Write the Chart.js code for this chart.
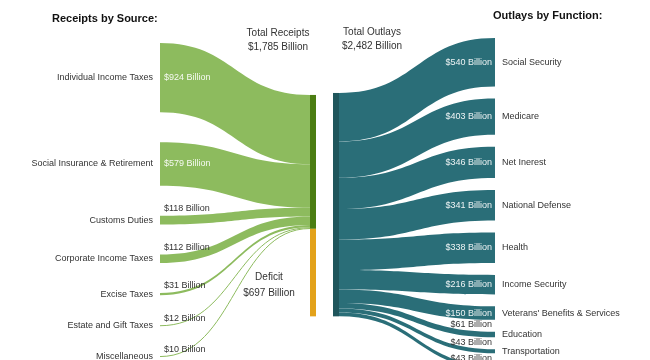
<!DOCTYPE html>
<html>
<head>
<meta charset="utf-8">
<script src="https://cdn.jsdelivr.net/npm/chart.js@4.4.1/dist/chart.umd.min.js"></script>
<style>
  body { margin: 0; background: #fff; }
</style>
</head>
<body>
<canvas id="grafico" width="650" height="360"></canvas>
<script>
// Receipts by source (billions)
const sources = ['Individual Income Taxes', 'Social Insurance & Retirement', 'Customs Duties',
  'Corporate Income Taxes', 'Excise Taxes', 'Estate and Gift Taxes', 'Miscellaneous'];
const receipts = [924, 579, 118, 112, 31, 12, 10];

// Outlays by function (billions)
const functions = ['Social Security', 'Medicare', 'Net Inerest', 'National Defense', 'Health',
  'Income Security', "Veterans' Benefits & Services", 'Education', 'Transportation', 'Other'];
const outlays = [540, 403, 346, 341, 338, 216, 150, 61, 43, 43];

const totalReceipts = 1785;
const totalOutlays = 2482;
const deficit = 697;

// layout (value units on each side)
const GAP_L = 400, GAP_R = 133;
const RECEIPTS_TOP = 693, OUTLAYS_TOP = 611;
const X = { lStart: 160, lBar: 310, rBar: 333, rEnd: 495, barW: 6 };

const C = {
  green: '#8dbb5e', greenBar: '#4b7d12', deficit: '#e3a21a',
  teal: '#2a6e78', tealBar: '#1f565c', text: '#333333'
};
const FONT = '"Liberation Sans", Arial, sans-serif';

const fmt = v => '$' + v.toLocaleString('en-US') + ' Billion';

function band(ctx, x0, t0, b0, x1, t1, b1) {
  const xm = (x0 + x1) / 2;
  if (b0 - t0 < 1.2) {
    // very thin flows drawn as a line
    const y0 = (t0 + b0) / 2, y1 = (t1 + b1) / 2;
    ctx.save();
    ctx.strokeStyle = ctx.fillStyle;
    ctx.lineWidth = Math.max(1, b0 - t0);
    ctx.beginPath();
    ctx.moveTo(x0, y0);
    ctx.bezierCurveTo(xm, y0, xm, y1, x1, y1);
    ctx.stroke();
    ctx.restore();
    return;
  }
  ctx.beginPath();
  ctx.moveTo(x0, t0);
  ctx.bezierCurveTo(xm, t0, xm, t1, x1, t1);
  ctx.lineTo(x1, b1);
  ctx.bezierCurveTo(xm, b1, xm, b0, x0, b0);
  ctx.closePath();
  ctx.fill();
}

function text(ctx, s, x, y, align, color, font) {
  ctx.fillStyle = color;
  ctx.textAlign = align;
  ctx.textBaseline = 'middle';
  ctx.font = font;
  ctx.fillText(s, x, y);
}

const sankeyPlugin = {
  id: 'sankey',
  afterDraw(chart) {
    const ctx = chart.ctx;
    const px = chart.scales.x, yl = chart.scales.yL, yr = chart.scales.yR;
    const xs = v => px.getPixelForValue(v);
    const small = '9px ' + FONT;

    // LEFT: sources -> total receipts
    let pos = 0, acc = RECEIPTS_TOP;
    receipts.forEach((v, i) => {
      const t0 = yl.getPixelForValue(pos), b0 = yl.getPixelForValue(pos + v);
      const t1 = yl.getPixelForValue(acc), b1 = yl.getPixelForValue(acc + v);
      ctx.fillStyle = C.green;
      band(ctx, xs(X.lStart), t0, b0, xs(X.lBar), t1, b1);
      const mid = (t0 + b0) / 2;
      text(ctx, sources[i], xs(X.lStart - 7), mid, 'right', C.text, small);
      if (v > 300) text(ctx, fmt(v), xs(X.lStart + 4), mid, 'left', 'rgba(255,255,255,0.92)', small);
      else text(ctx, fmt(v), xs(X.lStart + 4), t0 - 7, 'left', C.text, small);
      pos += v + GAP_L;
      acc += v;
    });

    // receipts bar + deficit bar
    const rTop = yl.getPixelForValue(RECEIPTS_TOP);
    const rBot = yl.getPixelForValue(RECEIPTS_TOP + totalReceipts);
    const oBot = yr.getPixelForValue(OUTLAYS_TOP + totalReceipts + deficit);
    ctx.fillStyle = C.greenBar;
    ctx.fillRect(xs(X.lBar), rTop, X.barW, rBot - rTop);
    ctx.fillStyle = C.deficit;
    ctx.fillRect(xs(X.lBar), rBot, X.barW, oBot - rBot);

    // RIGHT: total outlays -> functions
    const oTop = yr.getPixelForValue(OUTLAYS_TOP);
    const oEnd = yr.getPixelForValue(OUTLAYS_TOP + totalOutlays);
    ctx.fillStyle = C.tealBar;
    ctx.fillRect(xs(X.rBar), oTop, X.barW, oEnd - oTop);
    pos = 0; acc = OUTLAYS_TOP;
    outlays.forEach((v, i) => {
      const t0 = yr.getPixelForValue(acc), b0 = yr.getPixelForValue(acc + v);
      const t1 = yr.getPixelForValue(pos), b1 = yr.getPixelForValue(pos + v);
      ctx.fillStyle = C.teal;
      band(ctx, xs(X.rBar) + X.barW, t0, b0, xs(X.rEnd), t1, b1);
      const mid = (t1 + b1) / 2;
      text(ctx, functions[i], xs(X.rEnd + 7), mid, 'left', C.text, small);
      if (v >= 150) text(ctx, fmt(v), xs(X.rEnd - 3), mid, 'right', 'rgba(255,255,255,0.92)', small);
      else text(ctx, fmt(v), xs(X.rEnd - 3), t1 - 7, 'right', C.text, small);
      pos += v + GAP_R;
      acc += v;
    });

    // titles and totals
    const bold = 'bold 11px ' + FONT, mid10 = '10px ' + FONT;
    text(ctx, 'Receipts by Source:', xs(52), 19, 'left', '#111', bold);
    text(ctx, 'Outlays by Function:', xs(493), 16, 'left', '#111', bold);
    text(ctx, 'Total Receipts', xs(278), 33, 'center', C.text, mid10);
    text(ctx, fmt(totalReceipts), xs(278), 47, 'center', C.text, mid10);
    text(ctx, 'Total Outlays', xs(372), 32, 'center', C.text, mid10);
    text(ctx, fmt(totalOutlays), xs(372), 46, 'center', C.text, mid10);
    const dMid = (rBot + oBot) / 2;
    text(ctx, 'Deficit', xs(269), dMid + 5, 'center', C.text, mid10);
    text(ctx, fmt(deficit), xs(269), dMid + 21, 'center', C.text, mid10);
  }
};

new Chart(document.getElementById('grafico'), {
  type: 'scatter',
  data: { datasets: [] },
  options: {
    responsive: false,
    animation: false,
    layout: { padding: 0 },
    plugins: { legend: { display: false }, tooltip: { enabled: false } },
    scales: {
      x: { type: 'linear', min: 0, max: 650, display: false },
      // left side: 0.075 px per billion, right side: 0.09 px per billion
      yL: { axis: 'y', type: 'linear', reverse: true, min: -573, max: -573 + 4800, display: false },
      yR: { axis: 'y', type: 'linear', reverse: true, min: -422, max: -422 + 4000, display: false }
    }
  },
  plugins: [sankeyPlugin]
});
</script>
</body>
</html>
